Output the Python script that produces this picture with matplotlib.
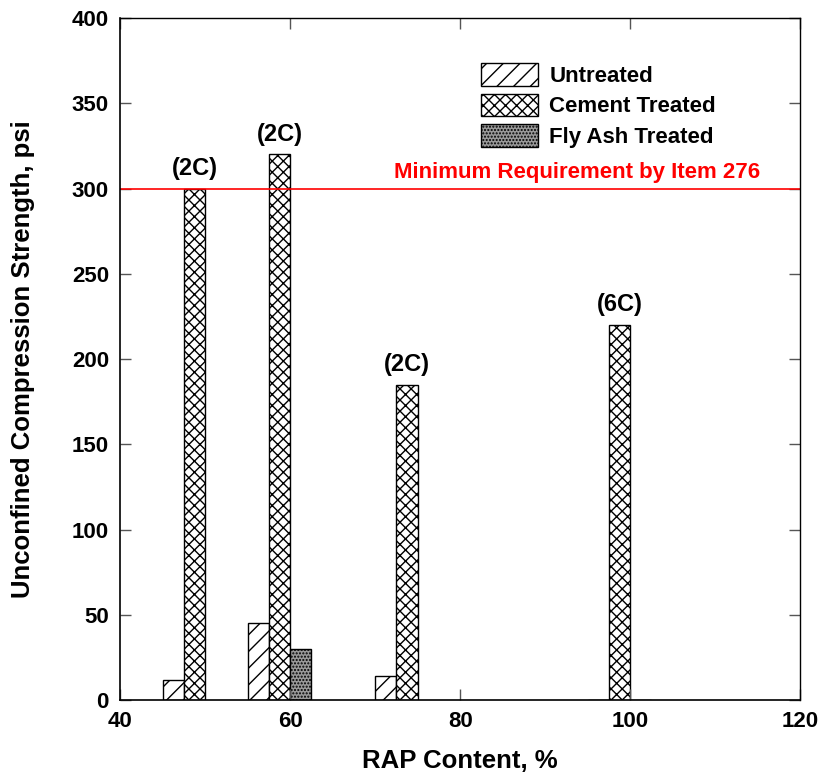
import matplotlib
matplotlib.use('Agg')
import matplotlib.pyplot as plt
import numpy as np

plt.rcParams['font.family'] = ['Liberation Sans', 'DejaVu Sans']
plt.rcParams['font.weight'] = 'bold'
plt.rcParams['hatch.linewidth'] = 1.0

# data
rap_content = [50, 60, 75, 100]
untreated = [12, 45, 14, 0]
cement = [300, 320, 185, 220]
fly_ash_x = [60, 100]
fly_ash = [30, 0]
cement_labels = ['(2C)', '(2C)', '(2C)', '(6C)']
min_requirement = 300

w = 2.5
fig = plt.figure(figsize=(8.25, 7.77), dpi=100)
ax = fig.add_axes([0.1455, 0.0991, 0.8245, 0.8777])

x = np.array(rap_content)
ax.bar(x - 2 * w, untreated, width=w, align='edge', color='white',
       edgecolor='black', hatch='//', linewidth=1, label='Untreated')
ax.bar(x - w, cement, width=w, align='edge', color='white',
       edgecolor='black', hatch='xxx', linewidth=1, label='Cement Treated')
ax.bar(np.array(fly_ash_x), fly_ash, width=w, align='edge', color='#9a9a9a',
       edgecolor='black', hatch='.....', linewidth=1, label='Fly Ash Treated')

for xi, v, lab in zip(x, cement, cement_labels):
    ax.text(xi - w / 2, v + 5, lab, ha='center', va='bottom',
            fontsize=17, fontweight='bold')

ax.axhline(min_requirement, color='red', linewidth=1.2)
ax.text(115.3, min_requirement + 3, 'Minimum Requirement by Item 276',
        color='red', ha='right', va='bottom', fontsize=16, fontweight='bold')

ax.set_xlim(40, 120)
ax.set_ylim(0, 400)
ax.set_xticks([40, 60, 80, 100, 120])
ax.set_yticks(np.arange(0, 401, 50))
ax.tick_params(direction='in', length=8, width=1, top=True, right=True,
               labelsize=16, pad=8, color='#555555')
for lab in ax.get_xticklabels() + ax.get_yticklabels():
    lab.set_fontweight('bold')
for s in ['left', 'bottom']:
    ax.spines[s].set_linewidth(1.2)
for s in ['top', 'right']:
    ax.spines[s].set_linewidth(1.0)

ax.set_xlabel('RAP Content, %', fontsize=18.5, fontweight='bold', labelpad=12)
ax.set_ylabel('Unconfined Compression Strength, psi', fontsize=18.5,
              fontweight='bold')
ax.yaxis.set_label_coords(-0.125, 0.5)

ax.legend(loc='upper left', bbox_to_anchor=(0.53, 0.934), frameon=False,
          fontsize=16, handlelength=2.6, handleheight=1.2, labelspacing=0.3,
          handletextpad=0.5, borderaxespad=0, borderpad=0)

fig.savefig('out.png', dpi=100)
